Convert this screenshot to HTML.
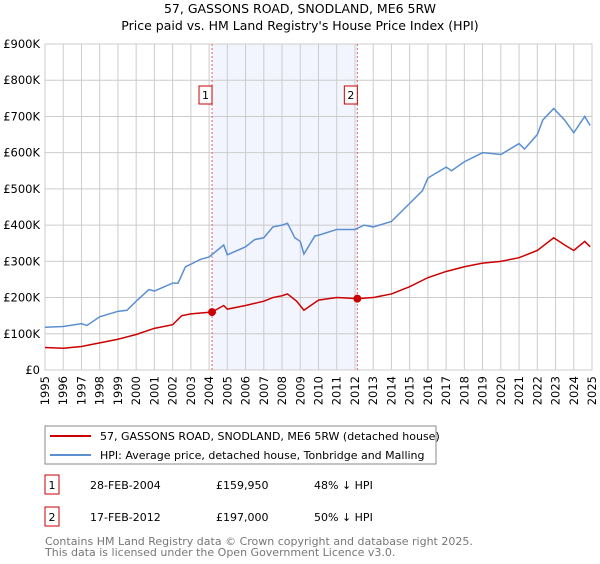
<!DOCTYPE html>
<html><head><meta charset="utf-8"><style>
body{margin:0;background:#fff;font-family:"DejaVu Sans","Liberation Sans",sans-serif;}
svg text{font-family:"DejaVu Sans","Liberation Sans",sans-serif;}
</style></head><body>
<svg id="c" width="600" height="560" xmlns="http://www.w3.org/2000/svg">
<text x="300" y="13" text-anchor="middle" font-size="12.5">57, GASSONS ROAD, SNODLAND, ME6 5RW</text>
<text x="300" y="30" text-anchor="middle" font-size="12.5">Price paid vs. HM Land Registry's House Price Index (HPI)</text>
<g id="plot"></g>
<rect x="45" y="426" width="391" height="38" fill="#fff" stroke="#888"/>
<line x1="50" y1="436" x2="91" y2="436" stroke="#cc0000" stroke-width="2"/>
<text x="100" y="440" font-size="11">57, GASSONS ROAD, SNODLAND, ME6 5RW (detached house)</text>
<line x1="50" y1="455" x2="91" y2="455" stroke="#5b8fd1" stroke-width="2"/>
<text x="100" y="459" font-size="11">HPI: Average price, detached house, Tonbridge and Malling</text>
<g>
<rect x="45" y="475" width="14" height="19" fill="#fff" stroke="#cc0000"/>
<text x="52" y="489" text-anchor="middle" font-size="11">1</text>
<text x="90" y="489" font-size="11">28-FEB-2004</text>
<text x="216" y="489" font-size="11">£159,950</text>
<text x="314" y="489" font-size="11">48% ↓ HPI</text>
</g>
<g>
<rect x="45" y="507" width="14" height="19" fill="#fff" stroke="#cc0000"/>
<text x="52" y="521" text-anchor="middle" font-size="11">2</text>
<text x="90" y="521" font-size="11">17-FEB-2012</text>
<text x="216" y="521" font-size="11">£197,000</text>
<text x="314" y="521" font-size="11">50% ↓ HPI</text>
</g>
<text x="45" y="545" font-size="11" fill="#777">Contains HM Land Registry data © Crown copyright and database right 2025.</text>
<text x="45" y="556" font-size="11" fill="#777">This data is licensed under the Open Government Licence v3.0.</text>
</svg>
<script>
const yTicks=[0,100,200,300,400,500,600,700,800,900];
const yTickLabels=["£0","£100K","£200K","£300K","£400K","£500K","£600K","£700K","£800K","£900K"];
const years=[1995,1996,1997,1998,1999,2000,2001,2002,2003,2004,2005,2006,2007,2008,2009,2010,2011,2012,2013,2014,2015,2016,2017,2018,2019,2020,2021,2022,2023,2024,2025];
const hpiT=[1995,1996,1997,1997.3,1998,1999,1999.5,2000,2000.7,2001,2002,2002.3,2002.7,2003,2003.5,2004,2004.8,2005,2006,2006.5,2007,2007.5,2008,2008.3,2008.7,2009,2009.2,2009.8,2010,2011,2012,2012.5,2013,2014,2015,2015.7,2016,2017,2017.3,2018,2019,2020,2021,2021.3,2022,2022.3,2022.9,2023.5,2024,2024.2,2024.6,2024.9];
const hpiV=[118,120,128,123,147,162,165,190,222,218,240,240,285,292,305,312,345,318,340,360,365,395,400,405,365,355,320,370,372,388,388,400,395,410,460,495,530,560,550,575,600,595,625,610,650,690,722,690,655,670,700,675];
const priceT=[1995,1996,1997,1998,1999,2000,2001,2002,2002.5,2003,2004.16,2004.8,2005,2006,2007,2007.5,2008,2008.3,2008.8,2009.2,2010,2011,2012.13,2013,2014,2015,2016,2017,2018,2019,2020,2021,2022,2022.9,2023.5,2024,2024.6,2024.9];
const priceV=[62,60,65,75,85,98,115,125,150,155,160,178,168,178,190,200,205,210,190,165,193,200,197,200,210,230,255,272,285,295,300,310,330,365,345,330,355,340];
const saleT=[2004.16,2012.13];
const saleV=[159.95,197];
const saleLabels=["1","2"];
const X=t=>45+(t-1995)*(547/30), Y=v=>370-v*(326/900);
const NS="http://www.w3.org/2000/svg", g=document.getElementById('plot');
function mk(tag,a){const e=document.createElementNS(NS,tag);for(const k in a)e.setAttribute(k,a[k]);g.appendChild(e);return e;}
const sh=mk('rect',{x:X(saleT[0]),y:Y(900),width:X(saleT[1])-X(saleT[0]),height:Y(0)-Y(900),fill:'#f2f5fd'});


years.forEach(y=>{const l=mk('line',{x1:X(y),x2:X(y),y1:Y(900),y2:Y(0),stroke:'#ccc'});


const px=X(y)+4, py=Y(0)+6;
const t=mk('text',{x:px,y:py,'font-size':11.5,'text-anchor':'end',transform:'rotate(-90 '+px+' '+py+')'});t.textContent=y;

});
yTicks.forEach((v,i)=>{const l=mk('line',{x1:X(1995),x2:X(2025),y1:Y(v),y2:Y(v),stroke:'#ccc'});


const t=mk('text',{x:40,y:Y(v)+4,'font-size':11.5,'text-anchor':'end'});t.textContent=yTickLabels[i];

});
const ax=mk('rect',{x:X(1995),y:Y(900),width:X(2025)-X(1995),height:Y(0)-Y(900),fill:'none',stroke:'#ccc'});


saleT.forEach((t,i)=>{const l=mk('line',{x1:X(t),x2:X(t),y1:Y(900),y2:Y(0),stroke:'#e06666','stroke-dasharray':'2,2'});


const b=mk('rect',{x:X(t)-13,y:86,width:13,height:18,fill:'#fff',stroke:'#cc0000'});


const tx=mk('text',{x:X(t)-6.5,y:99,'font-size':11,'text-anchor':'middle'});tx.textContent=saleLabels[i];

});
const hp=mk('polyline',{points:hpiT.map((t,i)=>X(t)+','+Y(hpiV[i])).join(' '),fill:'none',stroke:'#5b8fd1','stroke-width':1.5});


const pp=mk('polyline',{points:priceT.map((t,i)=>X(t)+','+Y(priceV[i])).join(' '),fill:'none',stroke:'#cc0000','stroke-width':1.5});


saleT.forEach((t,i)=>{const c=mk('circle',{cx:X(t),cy:Y(saleV[i]),r:4,fill:'#cc0000'});

});
</script>
</body></html>
